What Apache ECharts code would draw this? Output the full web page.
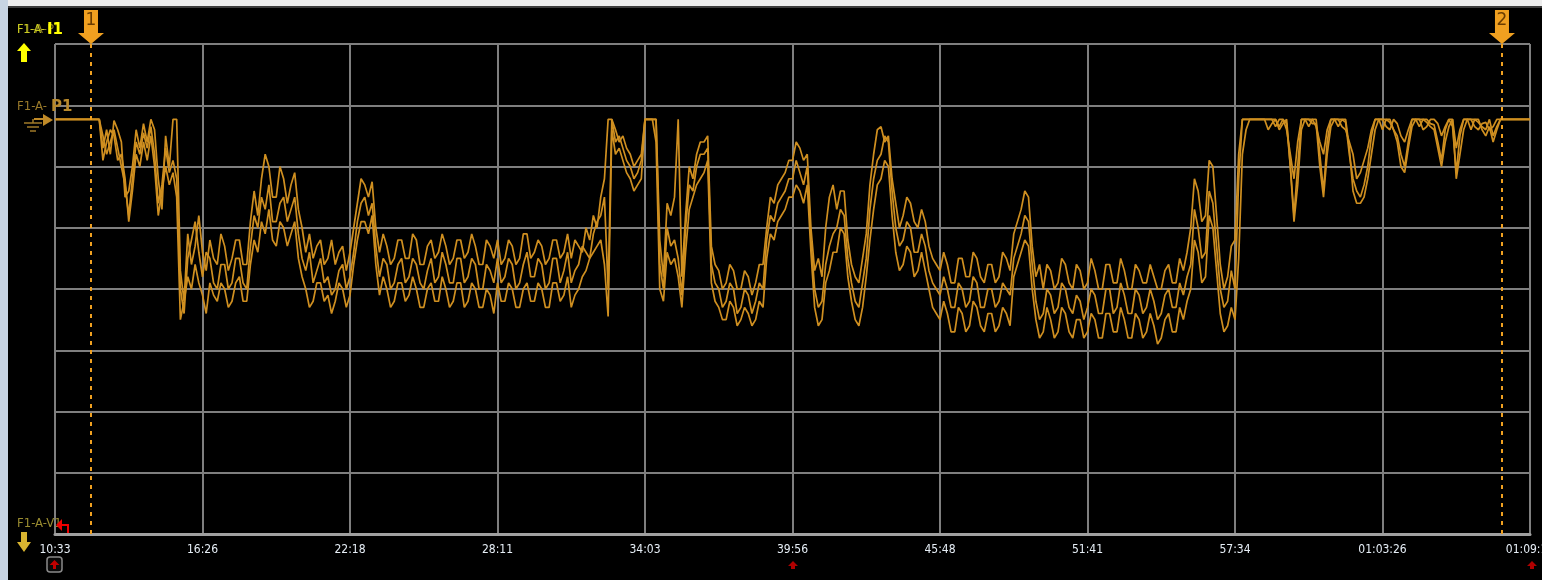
<!DOCTYPE html>
<html>
<head>
<meta charset="utf-8">
<script src="https://cdn.jsdelivr.net/npm/echarts@6/dist/echarts.min.js"></script>
<style>
html,body{margin:0;padding:0;background:#000;}
#chart{width:1542px;height:580px;}
</style>
</head>
<body>
<div id="chart"></div>
<script>
// ---- data ----
const tickLabels = ['10:33','16:26','22:18','28:11','34:03','39:56','45:48','51:41','57:34','01:03:26','01:09:19'];
const xStep = 0.025;             // sample spacing in grid-division units
const cursorPos = [0.244, 9.81]; // cursor 1 and 2 positions (grid-division units)
const cursorNames = ['1','2'];

const traceA = [
 67.7,67.7,67.7,67.7,67.7,67.7,67.7,67.7,67.7,67.7,67.7,67.7,67.7,63,66,62,67.5,66,64,55,
 56,60,66,63,67,64,67.7,66,58,53,65,60,67.7,67.7,43,38,49,44,47,52,
 46,43,48,45,44,49,47,43,45,48,48,44,44,51,56,52,58,62,60,55,
 55,60,58,54,57,59,53,50,46,49,45,47,48,44,45,48,44,46,47,43,
 46,50,54,58,57,55,57.5,50,46,49,47,44,45,48,48,45,45,49,48,44,
 44,47,48,45,46,49,47,44,45,48,48,45,46,49,47,44,44,48,47,45,
 48,44,45,48,47,44,45,49,49,45,46,48,47,44,45,48,48,45,46,49,
 45,48,47,46,50,48,52,50,55,58,67.7,67.7,66,64,65,63,62,60,61,62,
 67.7,67.7,67.7,67.7,48,42,54,52,55,67.7,42,52,60,58,62,64,64,65,47,44,
 43,40,41,44,43,40,40,43,42,39,41,44,44,50,55,54,57,58,59,61,
 61,64,63,61,62,50,43,45,42,50,55,57,53,56,56,48,44,42,41,45,
 49,57,62,66,66.5,64,65,58,54,50,52,55,54,51,50,53,51,47,45,44,
 43,46,44,41,41,45,45,42,42,46,45,42,41,44,44,41,42,46,45,43,
 49,51,53,56,55,47,42,44,40,44,43,40,41,45,44,41,40,44,43,40,
 41,45,43,40,40,44,44,41,41,45,43,40,40,44,43,41,41,44,42,40,
 40,43,44,41,41,45,43,46,50,58,56,51,52,61,60,52,44,40,42,47,
 48,62,67.7,67.7,67.7,67.7,67.7,67.7,67.7,67.7,67.7,66.5,67.7,67.7,66,62,58,64,67.7,67.7,
 67.7,67.7,66.5,64,62,66,67.7,67.7,67.7,66.5,66,64,62,58,59,61,63,66,67.7,67.7,
 67.7,66.5,66,67.7,67,65,64,66,67.7,67.7,67.7,66,66.5,67.7,67.7,67,65,66.5,67.7,67.7,
 63,66,67.7,67.7,67.7,66.5,66,67,67.2,66,66.5,67.7,67.7,67.7,67.7,67.7,67.7,67.7,67.7,67.7,
 67.7
];
const traceB = [
 67.7,67.7,67.7,67.7,67.7,67.7,67.7,67.7,67.7,67.7,67.7,67.7,67.7,65,62,64,66,63,60,57,
 52,58,64,62,65.5,63,66.5,62,54,57,63,59,61,58,40,36,45,48,51,46,
 42,46,45,41,40,44,44,40,41,45,45,41,40,47,52,50,55,53,57,51,
 51,54,55,51,53,55,49,45,43,46,41,43,45,41,42,39,40,43,44,40,
 42,46,51,54,55,52,54,47,42,45,44,40,41,44,45,41,42,45,44,41,
 40,43,45,41,42,46,44,41,41,45,45,41,42,45,44,40,40,44,43,41,
 45,41,42,45,44,40,41,44,46,42,42,45,44,40,41,45,45,41,43,46,
 41,43,44,47,46,45,49,51,52,55,40,67.7,64,65,63,61,60,58,59,61,
 67.7,67.7,67.7,67.7,44,40,50,47,48,45,39,50,57,56,60,62,62,63,44,41,
 40,37,38,41,40,36,37,40,39,36,38,41,40,48,52,51,54,55,56,58,
 58,61,59,57,60,48,40,37,38,44,47,49,50,53,52,45,41,38,37,41,
 45,53,58,61,62,65,64,56,50,47,48,51,50,46,46,49,47,43,41,40,
 39,42,40,37,37,41,40,37,38,42,41,37,37,40,40,37,38,41,40,39,
 45,47,49,52,51,44,38,35,36,40,39,36,37,41,40,37,36,39,38,35,
 37,40,39,36,36,40,40,36,37,41,39,36,36,40,39,36,37,40,38,35,
 36,39,40,37,37,41,39,42,44,53,50,45,46,56,54,47,40,37,38,43,
 40,58,67.7,67.7,67.7,67.7,67.7,67.7,67.7,67.7,67.7,67.7,66.5,67.7,67,60,52,60,67.7,67.7,
 66.5,67.7,67.7,62,56,64,67.7,67.7,66.5,67.7,67.2,62,58,56,55,57,60,65,67.7,67.7,
 66,67.7,67.2,66,65,62,60,64,67.7,67.7,66.5,67.7,67.7,67,66.8,64,61,66,67.7,66.5,
 59,65,67.7,67.7,66,67.7,67.2,66.5,66,67.7,65,66.5,67.7,67.7,67.7,67.7,67.7,67.7,67.7,67.7,
 67.7
];
const traceC = [
 67.7,67.7,67.7,67.7,67.7,67.7,67.7,67.7,67.7,67.7,67.7,67.7,67.7,61,64,66,65,61,62,58,
 51,56,62,60,64,61,65,60,52,56,60,57,59,55,35,38,42,40,44,41,
 39,36,41,39,38,41,40,37,38,41,42,38,38,44,48,46,51,49,53,48,
 47,51,50,47,49,51,45,42,40,37,38,41,41,38,39,36,38,41,40,37,
 39,44,48,51,51,49,52,44,39,42,40,37,38,41,41,38,39,42,40,37,
 37,40,41,38,38,42,40,37,38,41,41,37,38,41,40,37,37,40,39,36,
 41,38,38,41,40,37,37,40,41,38,38,41,40,37,37,41,41,38,39,42,
 37,39,40,42,43,45,46,47,48,44,35.5,66,62,63,61,59,58,56,57,58,
 67.7,67.7,67.7,64,40,38,46,44,45,42,37,46,53,55,57,58,59,61,41,38,
 37,35,35,38,37,34,35,37,36,34,35,38,37,45,49,48,51,52,53,55,
 55,57,56,54,57,46,37,34,35,41,43,46,46,50,49,42,38,35,34,37,
 42,48,53,57,58,61,60,52,46,43,44,47,46,42,43,46,43,40,37,36,
 35,38,36,33,33,37,36,33,34,38,37,34,33,36,36,33,34,37,36,34,
 42,44,46,48,47,40,35,32,33,37,35,32,33,37,36,33,32,35,35,32,
 33,36,35,32,32,36,36,33,33,37,35,32,32,36,35,32,33,36,34,31,
 32,35,36,33,33,37,35,38,40,48,46,41,42,52,50,43,36,33,34,37,
 35,45,62,66,67.7,67.7,67.7,67.7,67.7,66,67,67.7,66,67,67.7,60,51,57,66,67.7,
 67.7,67,67,60,55,62,66.5,67.7,67.7,67.7,67.7,63,56,54,54,55,58,62,66,67.7,
 67.7,67.7,67.7,66,64,60,59,63,66.5,67.7,67.7,67.7,67.2,66.5,66,63,60,64,66.5,67.7,
 58,62,66,67.7,67.7,67.7,67.7,66,65,66.5,64,66,67.7,67.7,67.7,67.7,67.7,67.7,67.7,67.7,
 67.7
];

// ---- chart ----
const traceColor = '#cf8f20';
const cursorColor = '#f0a020';
const toPairs = arr => arr.map((v, i) => [+(i * xStep).toFixed(4), v]);

const chart = echarts.init(document.getElementById('chart'), null, {renderer: 'canvas'});

const headPath = 'path://M6,0 H20 V23 H26 L13,34 L0,23 H6 Z';

const traceSeries = [traceA, traceB, traceC].map((arr, k) => ({
  type: 'line',
  name: 'F1-A-P1-' + k,
  data: toPairs(arr),
  showSymbol: false,
  symbol: 'none',
  lineStyle: {color: traceColor, width: 1.7},
  z: 3,
  animation: false
}));

traceSeries[0].markLine = {
  silent: true,
  symbol: 'none',
  label: {show: false},
  lineStyle: {color: cursorColor, width: 2, type: [4, 5]},
  data: cursorPos.map(p => ({xAxis: p}))
};
traceSeries[0].markPoint = {
  silent: true,
  symbol: headPath,
  symbolSize: [26, 34],
  symbolOffset: [0, '-50%'],
  itemStyle: {color: cursorColor},
  label: {show: true, position: 'inside', offset: [0, -6], color: '#6a3c00', fontSize: 17, fontFamily: 'DejaVu Sans'},
  data: cursorPos.map((p, i) => ({coord: [p, 80], value: cursorNames[i]}))
};

const option = {
  backgroundColor: '#000',
  animation: false,
  grid: {left: 55, right: 12, top: 44, bottom: 46, outerBoundsMode: 'none', containLabel: false},
  xAxis: {
    type: 'value', min: 0, max: 10, interval: 1,
    axisLine: {show: true, lineStyle: {color: '#a0a0a0', width: 3}},
    axisTick: {show: false},
    splitLine: {show: true, lineStyle: {color: '#7f7f7f', width: 2}},
    axisLabel: {
      color: '#e6eef6', fontSize: 12, fontFamily: 'DejaVu Sans Condensed', margin: 10,
      showMinLabel: true, showMaxLabel: true, hideOverlap: false,
      formatter: v => tickLabels[Math.round(v)] || ''
    }
  },
  yAxis: {
    type: 'value', min: 0, max: 80, interval: 10,
    axisLine: {show: false}, axisTick: {show: false}, axisLabel: {show: false},
    splitLine: {show: true, lineStyle: {color: '#7f7f7f', width: 2}}
  },
  series: traceSeries,
  graphic: [
    {type: 'rect', shape: {x: 0, y: 0, width: 1542, height: 6}, style: {fill: '#ededed'}, z: 100},
    {type: 'rect', shape: {x: 0, y: 6, width: 1542, height: 2}, style: {fill: '#3c3c3c'}, z: 100},
    {type: 'rect', shape: {x: 0, y: 0, width: 8, height: 580}, style: {fill: '#c7d4e2'}, z: 101},
    // top label (I1 over P1)
    {type: 'text', x: 17, y: 30, style: {text: 'F1-A-P1', fill: '#8a7a22', font: '13px "DejaVu Sans Condensed"', verticalAlign: 'middle'}, z: 50},
    {type: 'text', x: 17, y: 30, style: {text: 'F1-A-', fill: '#c8cc20', font: '12px "DejaVu Sans Condensed"', verticalAlign: 'middle'}, z: 51},
    {type: 'text', x: 47, y: 30, style: {text: 'I1', fill: '#ffff00', font: 'bold 15px "DejaVu Sans"', verticalAlign: 'middle'}, z: 51},
    {type: 'polygon', shape: {points: [[24,43],[31,51],[27,51],[27,62],[21,62],[21,51],[17,51]]}, style: {fill: '#ffff00'}, z: 51},
    // P1 label
    {type: 'text', x: 17, y: 107, style: {text: 'F1-A-', fill: '#9a7a2a', font: '13px "DejaVu Sans Condensed"', verticalAlign: 'middle'}, z: 51},
    {type: 'text', x: 51, y: 107, style: {text: 'P1', fill: '#b8892c', font: 'bold 15px "DejaVu Sans"', verticalAlign: 'middle'}, z: 51},
    {type: 'polyline', shape: {points: [[34,119],[44,119]]}, style: {stroke: '#c08a28', lineWidth: 2}, z: 51},
    {type: 'polygon', shape: {points: [[43,114],[53,120],[43,126]]}, style: {fill: '#c08a28'}, z: 51},
    {type: 'polyline', shape: {points: [[33,119],[33,123]]}, style: {stroke: '#a07a28', lineWidth: 1.5}, z: 51},
    {type: 'polyline', shape: {points: [[24,123],[42,123]]}, style: {stroke: '#a07a28', lineWidth: 1.5}, z: 51},
    {type: 'polyline', shape: {points: [[27,127],[39,127]]}, style: {stroke: '#a07a28', lineWidth: 1.5}, z: 51},
    {type: 'polyline', shape: {points: [[30,131],[36,131]]}, style: {stroke: '#a07a28', lineWidth: 1.5}, z: 51},
    // V1 label
    {type: 'text', x: 17, y: 524, style: {text: 'F1-A-V1', fill: '#9a8c30', font: '13px "DejaVu Sans Condensed"', verticalAlign: 'middle'}, z: 51},
    {type: 'polyline', shape: {points: [[68,533],[68,525],[60,525]]}, style: {stroke: '#ee0000', lineWidth: 2}, z: 52},
    {type: 'polygon', shape: {points: [[56,525],[62,519],[62,531]]}, style: {fill: '#ee0000'}, z: 52},
    {type: 'polygon', shape: {points: [[21,532],[27,532],[27,542],[31,542],[24,552],[17,542],[21,542]]}, style: {fill: '#d8b430'}, z: 51},
    // bottom markers
    {type: 'rect', shape: {x: 47, y: 557, width: 15, height: 15, r: 3}, style: {fill: '#0a0a0a', stroke: '#8a8a8a', lineWidth: 1.5}, z: 51},
    {type: 'polygon', shape: {points: [[54.5,560],[59.5,565],[56,565],[56,569],[53,569],[53,565],[49.5,565]]}, style: {fill: '#c00000'}, z: 52},
    {type: 'polygon', shape: {points: [[793,561],[798,566],[795,566],[795,569],[791,569],[791,566],[788,566]]}, style: {fill: '#b00000'}, z: 52},
    {type: 'polygon', shape: {points: [[1532,561],[1537,566],[1534,566],[1534,569],[1530,569],[1530,566],[1527,566]]}, style: {fill: '#b00000'}, z: 52}
  ]
};
chart.setOption(option);
</script>
</body>
</html>
